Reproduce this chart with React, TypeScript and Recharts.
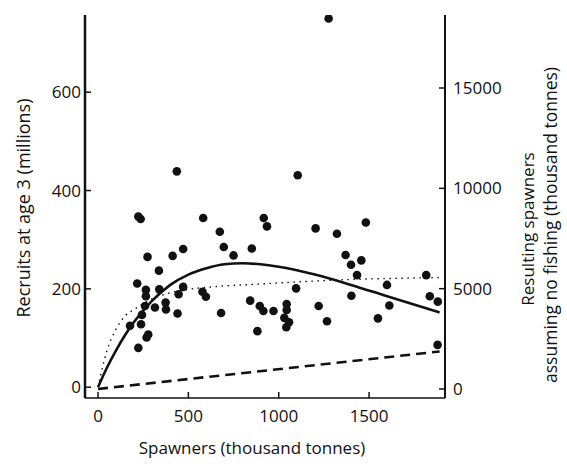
import { ComposedChart, Scatter, Line, XAxis, YAxis } from 'recharts';

// observed stock: spawners (thousand tonnes) vs recruits at age 3 (millions)
const spawners = [
  436, 1105, 223, 236, 582, 917, 935, 674, 1204, 696, 471, 413, 274, 750, 851, 337,
  217, 265, 265, 339, 471, 446, 578, 597, 1096, 260, 315, 374, 376, 243, 238, 177,
  440, 681, 842, 895, 915, 971, 1044, 1044, 1031, 1057, 1042, 1221, 1267, 882, 278, 269,
  223, 1322, 1482, 1370, 1400, 1457, 1433, 1402, 1599, 1612, 1549, 1816, 1836, 1880, 1879, 1276,
];
const recruits = [
  439, 431, 347, 342, 344, 344, 327, 316, 323, 285, 281, 267, 265, 268, 282, 237,
  211, 198, 185, 199, 204, 189, 194, 184, 201, 165, 162, 172, 158, 147, 128, 125,
  150, 151, 176, 165, 155, 155, 169, 157, 141, 132, 122, 165, 134, 114, 107, 101,
  80, 312, 335, 269, 249, 258, 228, 186, 208, 166, 140, 228, 185, 174, 86, 750,
];

// fitted curves
const curveSpawners = [0, 50, 100, 150, 200, 300, 400, 500, 600, 700, 800, 900, 1000, 1200, 1400, 1600, 1890];
const rickerRecruits = [0, 40, 75, 106, 133, 176, 208, 229, 242, 250, 252, 250, 245, 229, 208, 185, 152];
const bevHoltRecruits = [0, 75, 118, 145, 158, 180, 192, 199, 203, 206, 208, 210, 212, 216, 219, 221, 223];

// replacement line (right axis)
const replacementSpawners = [0, 1890];
const replacementResult = [0, 1870];

const leftTicks = [0, 200, 400, 600];
const rightTicks = [0, 5000, 10000, 15000];
const xTicks = [0, 500, 1000, 1500];

const points = spawners.map((x, i) => ({ x, y: recruits[i] }));
const ricker = curveSpawners.map((x, i) => ({ x, y: rickerRecruits[i] }));
const bevHolt = curveSpawners.map((x, i) => ({ x, y: bevHoltRecruits[i] }));
const replacement = replacementSpawners.map((x, i) => ({ x, y: replacementResult[i] }));

const font = "'Open Sans', sans-serif";
const tickStyle = { fontFamily: font, fontSize: 17, fill: '#111' };

const Dot = (props: any) => <circle cx={props.cx} cy={props.cy} r={4.3} fill="#111" />;

export default function App() {
  return (
    <div style={{ position: 'absolute', left: 0, top: 0, width: 567, height: 468, background: '#fff' }}>
      <ComposedChart width={567} height={468} margin={{ top: 15, right: 0, bottom: 0, left: 0 }}>
        <XAxis
          type="number"
          dataKey="x"
          domain={[-72, 1920]}
          ticks={xTicks}
          allowDataOverflow
          height={70}
          tick={tickStyle}
          tickSize={-6}
          tickMargin={18}
          axisLine={{ stroke: '#111', strokeWidth: 1.5 }}
          tickLine={{ stroke: '#111', strokeWidth: 1.5 }}
        />
        <YAxis
          yAxisId="left"
          type="number"
          dataKey="y"
          domain={[-22, 757]}
          ticks={leftTicks}
          allowDataOverflow
          width={85}
          tick={tickStyle}
          tickSize={-6}
          tickMargin={10}
          axisLine={{ stroke: '#111', strokeWidth: 2.5 }}
          tickLine={{ stroke: '#111', strokeWidth: 1.5 }}
        />
        <YAxis
          yAxisId="right"
          orientation="right"
          type="number"
          dataKey="y"
          domain={[-449, 18638]}
          ticks={rightTicks}
          allowDataOverflow
          width={122}
          tick={tickStyle}
          tickSize={-6}
          tickMargin={14}
          axisLine={{ stroke: '#111', strokeWidth: 2 }}
          tickLine={{ stroke: '#111', strokeWidth: 1.5 }}
        />
        <Line
          yAxisId="right"
          data={replacement}
          dataKey="y"
          type="linear"
          stroke="#111"
          strokeWidth={2.6}
          strokeDasharray="10 6"
          dot={false}
          isAnimationActive={false}
        />
        <Line
          yAxisId="left"
          data={bevHolt}
          dataKey="y"
          type="monotone"
          stroke="#111"
          strokeWidth={1.4}
          strokeDasharray="1.5 4.5"
          dot={false}
          isAnimationActive={false}
        />
        <Line
          yAxisId="left"
          data={ricker}
          dataKey="y"
          type="monotone"
          stroke="#111"
          strokeWidth={2.6}
          dot={false}
          isAnimationActive={false}
        />
        <Scatter yAxisId="left" data={points} dataKey="y" shape={Dot} isAnimationActive={false} />
      </ComposedChart>
      <svg
        width={567}
        height={468}
        style={{ position: 'absolute', left: 0, top: 0, pointerEvents: 'none' }}
        fontFamily={font}
        fontSize={17}
        fill="#111"
      >
        <text transform="translate(23,208) rotate(-90)" textAnchor="middle" dominantBaseline="central" fontSize={18}>
          Recruits at age 3 (millions)
        </text>
        <text x={252} y={447} textAnchor="middle" dominantBaseline="central">
          Spawners (thousand tonnes)
        </text>
        <text transform="translate(527,229) rotate(-90)" textAnchor="middle" dominantBaseline="central">
          Resulting spawners
        </text>
        <text transform="translate(550,225) rotate(-90)" textAnchor="middle" dominantBaseline="central" fontSize={17.5}>
          assuming no fishing (thousand tonnes)
        </text>
      </svg>
    </div>
  );
}
